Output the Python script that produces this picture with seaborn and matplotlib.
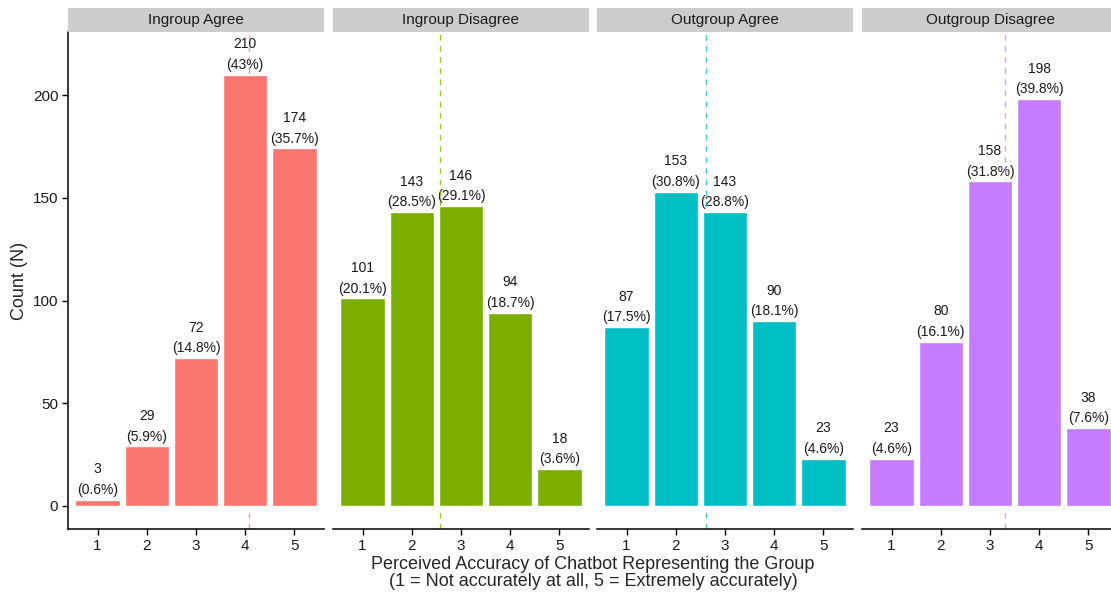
import matplotlib
matplotlib.use("Agg")
import matplotlib.pyplot as plt
import seaborn as sns
import numpy as np
import pandas as pd

groups = ["Ingroup Agree", "Ingroup Disagree", "Outgroup Agree", "Outgroup Disagree"]
ratings = [1, 2, 3, 4, 5]
ingroup_agree = [3, 29, 72, 210, 174]
ingroup_disagree = [101, 143, 146, 94, 18]
outgroup_agree = [87, 153, 143, 90, 23]
outgroup_disagree = [23, 80, 158, 198, 38]
colors = ["#F8766D", "#7CAE00", "#00BFC4", "#C77CFF"]

counts = [ingroup_agree, ingroup_disagree, outgroup_agree, outgroup_disagree]

sns.set_style("white")
plt.rcParams["font.family"] = ["Liberation Sans", "DejaVu Sans"]

W, H = 1111, 595
fig = plt.figure(figsize=(W / 100, H / 100), dpi=100)

panel_left = [68, 333, 597, 862]
panel_w = 256
top_px, bot_px = 32, 529
strip_top = 8


def pct_label(n, total):
    p = round(100 * n / total, 1)
    s = f"{p:.1f}".rstrip("0").rstrip(".")
    return f"{n}\n({s}%)"


for i, (name, vals, col) in enumerate(zip(groups, counts, colors)):
    x0 = panel_left[i] / W
    ax = fig.add_axes([x0, 1 - bot_px / H, panel_w / W, (bot_px - top_px) / H])
    df = pd.DataFrame({"rating": ratings, "count": vals})
    sns.barplot(data=df, x="rating", y="count", native_scale=True, width=0.9,
                color=col, saturation=1, ax=ax, zorder=3)
    total = sum(vals)
    mean = np.dot(ratings, vals) / total
    ax.axvline(mean, color=col, ls=(0, (4, 4)), lw=1.0, alpha=0.75, zorder=2.5)
    for r, v in zip(ratings, vals):
        ax.annotate(pct_label(v, total), (r, v), xytext=(0, 2), textcoords="offset points",
                    ha="center", va="bottom", fontsize=10, linespacing=1.6,
                    color="#1a1a1a", zorder=1)
    ax.set_xlim(0.4, 5.6)
    ax.set_ylim(-11.2, 230.7)
    ax.set_xticks(ratings)
    ax.set_xticklabels([str(r) for r in ratings])
    ax.set_xlabel("")
    ax.set_ylabel("")
    for s in ["top", "right"]:
        ax.spines[s].set_visible(False)
    ax.spines["bottom"].set_color("black")
    ax.spines["bottom"].set_linewidth(1.1)
    ax.tick_params(axis="x", length=4, width=1, color="black", labelsize=11,
                   labelcolor="#1a1a1a", pad=3, bottom=True)
    if i == 0:
        ax.spines["left"].set_color("black")
        ax.spines["left"].set_linewidth(1.1)
        ax.set_yticks([0, 50, 100, 150, 200])
        ax.tick_params(axis="y", length=4, width=1, color="black", labelsize=11,
                       labelcolor="#1a1a1a", pad=3, left=True)
    else:
        ax.spines["left"].set_visible(False)
        ax.set_yticks([])
    ax.set_facecolor("white")

    # strip header
    sax = fig.add_axes([x0, 1 - top_px / H, panel_w / W, (top_px - strip_top) / H])
    sax.set_facecolor("#CCCCCC")
    sax.set_xticks([])
    sax.set_yticks([])
    for s in sax.spines.values():
        s.set_visible(False)
    sax.text(0.5, 0.5, name, ha="center", va="center", fontsize=11,
             color="#1a1a1a", transform=sax.transAxes)

fig.text(20 / W, 1 - 281 / H, "Count (N)", rotation=90, ha="center", va="center",
         fontsize=13)
fig.text(593 / W, 1 - 573 / H,
         "Perceived Accuracy of Chatbot Representing the Group\n(1 = Not accurately at all, 5 = Extremely accurately)",
         ha="center", va="center", fontsize=13, linespacing=1.05)

fig.savefig("out.png", dpi=100)
